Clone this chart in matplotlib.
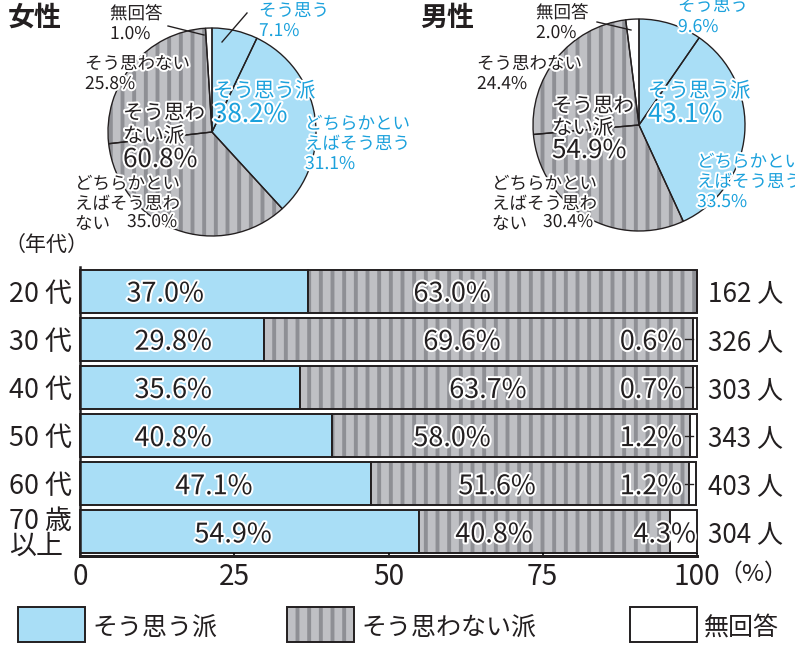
import matplotlib
matplotlib.use('Agg')
import matplotlib.pyplot as plt
import matplotlib.patheffects as pe
from matplotlib.patches import Rectangle
from matplotlib.lines import Line2D
import numpy as np

W, H, DPI = 795, 652, 140

plt.rcParams['font.family'] = ['Noto Sans CJK JP', 'DejaVu Sans']
plt.rcParams['hatch.linewidth'] = 2.0

# ---- data ----
ages = ['20 代', '30 代', '40 代', '50 代', '60 代', '70 歳\n以上']
yes_pct = [37.0, 29.8, 35.6, 40.8, 47.1, 54.9]
no_pct = [63.0, 69.6, 63.7, 58.0, 51.6, 40.8]
na_pct = [0.0, 0.6, 0.7, 1.2, 1.2, 4.3]
counts = [162, 326, 303, 343, 403, 304]

# pie order: そう思う, どちらかといえばそう思う, どちらかといえばそう思わない, そう思わない, 無回答
female_pct = [7.1, 31.1, 35.0, 25.8, 1.0]
male_pct = [9.6, 33.5, 30.4, 24.4, 2.0]
female_group = [38.2, 60.8]
male_group = [43.1, 54.9]

legend_labels = ['そう思う派', 'そう思わない派', '無回答']
xticks = [0, 25, 50, 75, 100]

# label placement inside the bars (x in %)
yes_label_x = [13.8, 15.1, 15.1, 15.1, 21.7, 24.8]
no_label_x = [60.3, 61.9, 66.1, 60.3, 67.6, 67.1]

BLUE = '#a9def6'
GRAY = '#bfc0c4'
STRIPE = '#8e8f94'
INK = '#231f20'
BLUE_INK = '#1ba1dc'


def px(n):
    # pixels -> points
    return n * 72 / DPI


halo = [pe.withStroke(linewidth=px(4), foreground='white')]

fig = plt.figure(figsize=(W / DPI, H / DPI), dpi=DPI)


def ftext(x, y, s, size, color=INK, **kw):
    kw.setdefault('va', 'top')
    kw.setdefault('ha', 'left')
    return fig.text(x / W, 1 - y / H, s, fontsize=px(size), color=color, **kw)


def lines(x, y, rows, size, color=INK, pitch=20):
    for i, r in enumerate(rows):
        ftext(x, y + i * pitch, r, size, color, path_effects=halo)


def leader(x0, y0, x1, y1):
    fig.add_artist(Line2D([x0 / W, x1 / W], [1 - y0 / H, 1 - y1 / H],
                          transform=fig.transFigure, color=INK, lw=0.7))


def draw_pie(cx, cy, r, vals):
    e = 1.03
    ax = fig.add_axes([(cx - r * e) / W, 1 - (cy + r * e) / H,
                       2 * r * e / W, 2 * r * e / H])
    fills = [BLUE, BLUE, GRAY, GRAY, 'white']
    wedges, _ = ax.pie(vals, colors=fills, startangle=90, counterclock=False,
                       wedgeprops=dict(linewidth=0))
    for w in wedges[2:4]:
        w.set_hatch('||')
        w.set_edgecolor(STRIPE)
        w.set_linewidth(0)
    ax.pie(vals, startangle=90, counterclock=False,
           wedgeprops=dict(fill=False, edgecolor=INK, linewidth=0.7))
    ax.set_xlim(-e, e)
    ax.set_ylim(-e, e)
    ax.axis('off')


# ---- pies ----
draw_pie(212, 132, 104, female_pct)
draw_pie(639, 125, 106, male_pct)

ftext(8, 4, '女性', 27, weight='bold')
ftext(420, 4, '男性', 27, weight='bold')

# female labels
lines(110, 5, ['無回答', f'{female_pct[4]:.1f}%'], 17.5)
lines(259, 2, ['そう思う', f'{female_pct[0]:.1f}%'], 17.5, BLUE_INK)
lines(85, 55, ['そう思わない', f'{female_pct[3]:.1f}%'], 17.5)
lines(305, 115, ['どちらかとい', 'えばそう思う', f'{female_pct[1]:.1f}%'], 17.5, BLUE_INK)
lines(75, 175, ['どちらかとい', 'えばそう思わ', 'ない'], 17.5)
lines(127, 213, [f'{female_pct[2]:.1f}%'], 17.5)
lines(213, 80, ['そう思う派'], 20.5, BLUE_INK)
lines(213, 101, [f'{female_group[0]:.1f}%'], 26, BLUE_INK)
lines(123, 102, ['そう思わ', 'ない派'], 20.5, INK, pitch=23)
lines(123, 146, [f'{female_group[1]:.1f}%'], 26)
leader(168, 26, 204, 35)
leader(247, 13, 222, 42)

# male labels
lines(536, 4, ['無回答', f'{male_pct[4]:.1f}%'], 17.5)
lines(678, -3, ['そう思う', f'{male_pct[0]:.1f}%'], 17.5, BLUE_INK, pitch=21)
lines(477, 55, ['そう思わない', f'{male_pct[3]:.1f}%'], 17.5)
lines(697, 153, ['どちらかとい', 'えばそう思う', f'{male_pct[1]:.1f}%'], 17.5, BLUE_INK)
lines(492, 175, ['どちらかとい', 'えばそう思わ', 'ない'], 17.5)
lines(543, 213, [f'{male_pct[2]:.1f}%'], 17.5)
lines(648, 80, ['そう思う派'], 20.5, BLUE_INK)
lines(648, 101, [f'{male_group[0]:.1f}%'], 26, BLUE_INK)
lines(552, 95, ['そう思わ', 'ない派'], 20.5, INK, pitch=22)
lines(552, 137, [f'{male_group[1]:.1f}%'], 26)
leader(597, 22, 631, 30)

# ---- bars ----
ax = fig.add_axes([80 / W, 1 - 556 / H, 617 / W, 289 / H])
y = np.arange(len(ages))
yes = np.array(yes_pct)
no = np.array(no_pct)
na = np.array(na_pct)
bh = 0.89

ax.barh(y, yes, height=bh, color=BLUE, edgecolor=INK, linewidth=1, clip_on=False)
ax.barh(y, no, left=yes, height=bh, color=GRAY, edgecolor=STRIPE, hatch='||',
        linewidth=0, clip_on=False)
ax.barh(y, no, left=yes, height=bh, fill=False, edgecolor=INK, linewidth=1, clip_on=False)
ax.barh(y, na, left=yes + no, height=bh, color='white', edgecolor=INK, linewidth=1,
        clip_on=False)

for i in range(len(ages)):
    ax.text(yes_label_x[i], i, f'{yes_pct[i]:.1f}%', ha='center', va='center_baseline',
            fontsize=px(27), color=INK, path_effects=halo)
    ax.text(no_label_x[i], i, f'{no_pct[i]:.1f}%', ha='center', va='center_baseline',
            fontsize=px(27), color=INK, path_effects=halo)
    if na_pct[i] > 0:
        if na_pct[i] < 2:
            ax.text(97.6, i, f'{na_pct[i]:.1f}%', ha='right', va='center_baseline',
                    fontsize=px(27), color=INK, path_effects=halo)
            ax.plot([98.0, 99.4], [i, i], color=INK, lw=0.7, clip_on=False)
        else:
            ax.text(99.8, i, f'{na_pct[i]:.1f}%', ha='right', va='center_baseline',
                    fontsize=px(27), color=INK, path_effects=halo, clip_on=False)
    ax.text(101.8, i, f'{counts[i]} 人', ha='left', va='center_baseline',
            fontsize=px(26), color=INK, clip_on=False)

ax.set_xlim(0, 100)
ax.set_ylim(len(ages) - 0.5, -0.5)
ax.set_xticks(xticks)
ax.set_xticklabels([str(t) for t in xticks], fontsize=px(28), color=INK)
ax.set_yticks(y)
ax.set_yticklabels(ages, fontsize=px(27), color=INK, linespacing=0.9)
for lbl in ax.get_yticklabels():
    lbl.set_multialignment('left')
ax.tick_params(axis='y', length=0, pad=px(8))
ax.tick_params(axis='x', length=px(3), width=0.8, direction='in', pad=px(6))
for s in ['top', 'right']:
    ax.spines[s].set_visible(False)
ax.spines['left'].set_linewidth(px(2.5))
ax.spines['bottom'].set_linewidth(px(3))
ax.spines['left'].set_color(INK)
ax.spines['bottom'].set_color(INK)

ftext(4, 234, '（年代）', 21)
ftext(718, 563, '（%）', 24)

# ---- legend ----
leg_boxes = [18, 287, 630]
leg_fill = [dict(facecolor=BLUE), dict(facecolor=GRAY, hatch='||'), dict(facecolor='white')]
for x0, lab, kw in zip(leg_boxes, legend_labels, leg_fill):
    if 'hatch' in kw:
        fig.add_artist(Rectangle((x0 / W, 1 - 642 / H), 67 / W, 35 / H, transform=fig.transFigure,
                                 edgecolor=STRIPE, linewidth=0, **kw))
        fig.add_artist(Rectangle((x0 / W, 1 - 642 / H), 67 / W, 35 / H, transform=fig.transFigure,
                                 fill=False, edgecolor=INK, linewidth=1))
    else:
        fig.add_artist(Rectangle((x0 / W, 1 - 642 / H), 67 / W, 35 / H, transform=fig.transFigure,
                                 edgecolor=INK, linewidth=1, **kw))
    ftext(x0 + 74, 625, lab, 25, va='center_baseline')

fig.savefig('out.png', dpi=DPI)
